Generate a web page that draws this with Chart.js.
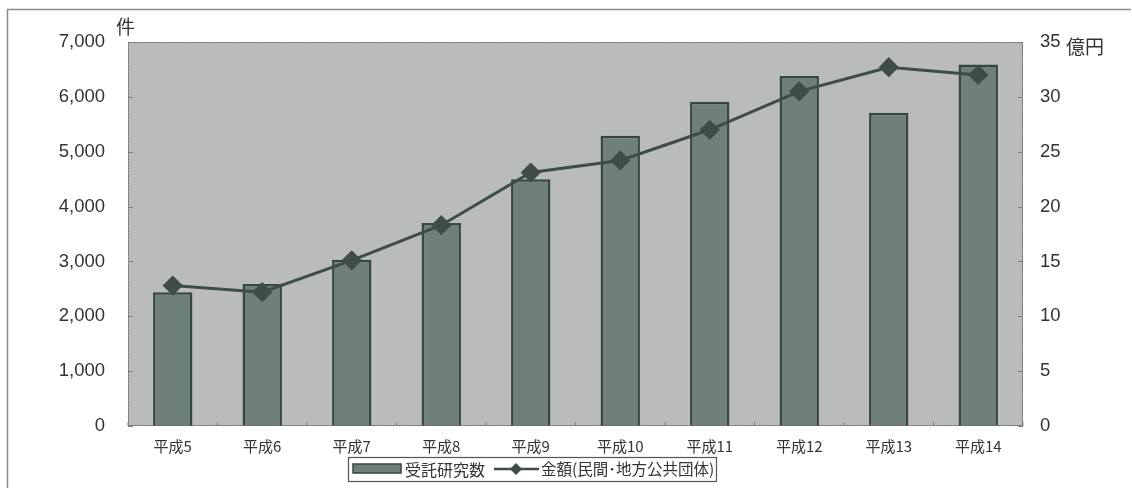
<!DOCTYPE html>
<html><head><meta charset="utf-8">
<script src="https://cdn.jsdelivr.net/npm/chart.js@4"></script>
<style>html,body{margin:0;padding:0;background:#fff}#wrap{width:1132px;height:488px;position:relative}</style>
</head><body><div id="wrap"><canvas id="c" width="1132" height="488"></canvas></div>
<script>
const categories = ['平成5','平成6','平成7','平成8','平成9','平成10','平成11','平成12','平成13','平成14'];
const contractResearchCount = [2440, 2590, 3030, 3700, 4500, 5290, 5910, 6380, 5710, 6590];
const amountOkuYen = [12.8, 12.2, 15.1, 18.3, 23.1, 24.2, 27.0, 30.5, 32.7, 32.0];
const leftTicks = [0,1000,2000,3000,4000,5000,6000,7000];
const rightTicks = [0,5,10,15,20,25,30,35];
const barLabel = '受託研究数';
const lineLabel = '金額(民間･地方公共団体)';
const leftUnit = '件';
const rightUnit = '億円';

const CJK = '"Noto Sans CJK JP", "Noto Sans", sans-serif';
const LAT = '"Liberation Sans", Arial, sans-serif';
const PLOT_L = 128, PLOT_R = 1023;

const decor = {
  id: 'decor',
  beforeDraw(chart) {
    const {ctx, chartArea: a} = chart;
    ctx.save();
    ctx.fillStyle = '#ffffff';
    ctx.fillRect(0,0,chart.width,chart.height);
    ctx.strokeStyle = '#8a8a8a'; ctx.lineWidth = 1.5;
    ctx.beginPath();
    ctx.moveTo(7.5, 488); ctx.lineTo(7.5, 9.5); ctx.lineTo(1131, 9.5);
    ctx.stroke();
    ctx.fillStyle = '#b9bcb8';
    ctx.fillRect(a.left, a.top, a.right-a.left, a.bottom-a.top);
    ctx.restore();
  },
  afterDatasetsDraw(chart) {
    const {ctx, chartArea: a, scales} = chart;
    ctx.save();
    ctx.strokeStyle = '#666966'; ctx.lineWidth = 1; ctx.setLineDash([2,1]);
    ctx.strokeRect(a.left+0.5, a.top+0.5, a.right-a.left-1, a.bottom-a.top-1);
    ctx.setLineDash([]);
    ctx.strokeStyle = '#7c7f7c'; ctx.lineWidth = 1;
    leftTicks.forEach(v => { const y = Math.round(scales.y.getPixelForValue(v))+0.5; ctx.beginPath(); ctx.moveTo(a.left, y); ctx.lineTo(a.left+5, y); ctx.stroke(); });
    rightTicks.forEach(v => { const y = Math.round(scales.y2.getPixelForValue(v))+0.5; ctx.beginPath(); ctx.moveTo(a.right, y); ctx.lineTo(a.right-5, y); ctx.stroke(); });
    for (let i=0;i<=categories.length;i++){ const x = a.left + (a.right-a.left)*i/categories.length; ctx.beginPath(); ctx.moveTo(x, a.bottom); ctx.lineTo(x, a.bottom-4); ctx.stroke(); }
    ctx.fillStyle = '#333'; ctx.textBaseline = 'middle';
    ctx.font = '19px ' + CJK; ctx.textAlign = 'left';
    ctx.fillText(leftUnit, 116, 27);
    ctx.fillText(rightUnit, 1066, 47);
    const lx = 348, ly = 457, lw = 368, lh = 24;
    ctx.fillStyle = '#ffffff'; ctx.fillRect(lx, ly, lw, lh);
    ctx.strokeStyle = '#555'; ctx.lineWidth = 1.2; ctx.strokeRect(lx+0.5, ly+0.5, lw, lh);
    ctx.fillStyle = '#6f8079'; ctx.fillRect(353, 464, 48, 9);
    ctx.strokeStyle = '#35483f'; ctx.lineWidth = 1.5; ctx.strokeRect(353, 464, 48, 9);
    ctx.fillStyle = '#333'; ctx.font = '16px ' + CJK; ctx.textAlign = 'left';
    ctx.fillText(barLabel, 405, 469.5);
    ctx.strokeStyle = '#3e4d45'; ctx.lineWidth = 2.5;
    ctx.beginPath(); ctx.moveTo(494, 469); ctx.lineTo(539, 469); ctx.stroke();
    ctx.fillStyle = '#3e4d45';
    ctx.beginPath(); ctx.moveTo(516, 463); ctx.lineTo(522, 469); ctx.lineTo(516, 475); ctx.lineTo(510, 469); ctx.closePath(); ctx.fill();
    ctx.fillStyle = '#333'; ctx.font = '15.5px ' + CJK;
    ctx.fillText(lineLabel, 541, 469.5);
    ctx.restore();
  }
};

new Chart(document.getElementById('c'), {
  data: {
    labels: categories,
    datasets: [
      { type: 'line', label: lineLabel, data: amountOkuYen, yAxisID: 'y2', order: 0,
        borderColor: '#3e4d45', borderWidth: 3, backgroundColor: '#3e4d45',
        pointStyle: 'rectRot', pointRadius: 8, pointHoverRadius: 8, tension: 0 },
      { type: 'bar', label: barLabel, data: contractResearchCount, yAxisID: 'y', order: 1,
        backgroundColor: '#6f8079', borderColor: '#35483f', borderWidth: 2.5,
        categoryPercentage: 1, barPercentage: 0.44 }
    ]
  },
  options: {
    responsive: false, animation: false, devicePixelRatio: 1,
    layout: { padding: { top: 42, bottom: 26, left: 0, right: 0 } },
    plugins: { legend: { display: false }, tooltip: { enabled: false } },
    scales: {
      x: { grid: { display: false, drawTicks: false }, border: { display: false },
           ticks: { color: '#333', font: { family: CJK, size: 15 }, padding: 11, maxRotation: 0 },
           afterFit(s) { s.height = 36; } },
      y: { position: 'left', min: 0, max: 7000, afterBuildTicks(s){ s.ticks = leftTicks.map(v=>({value:v})); },
           grid: { display: false, drawTicks: false }, border: { display: false },
           ticks: { color: '#333', font: { family: LAT, size: 18.5 }, padding: 23,
                    callback: v => v.toLocaleString('en-US') },
           afterFit(s) { s.width = PLOT_L; } },
      y2: { position: 'right', min: 0, max: 35, afterBuildTicks(s){ s.ticks = rightTicks.map(v=>({value:v})); },
            grid: { display: false, drawTicks: false }, border: { display: false },
            ticks: { color: '#333', font: { family: LAT, size: 18.5 }, padding: 17 },
            afterFit(s) { s.width = 1132 - PLOT_R; } }
    }
  },
  plugins: [decor]
});
</script></body></html>
